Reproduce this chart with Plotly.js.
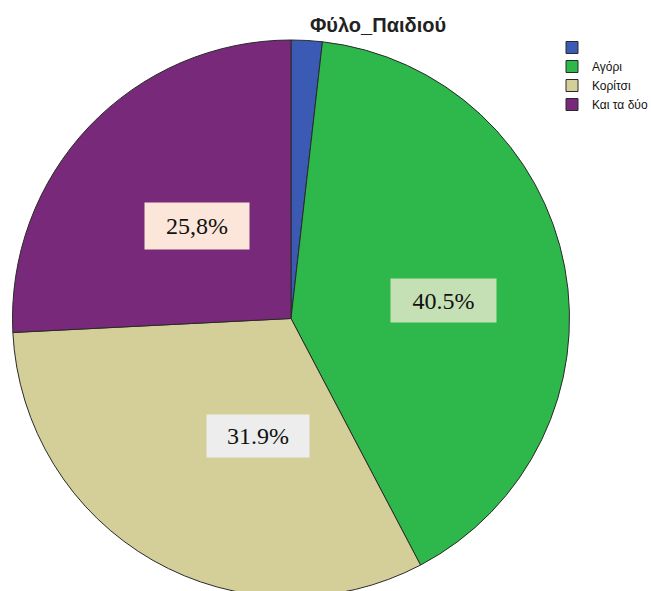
<!DOCTYPE html>
<html>
<head>
<meta charset="utf-8">
<script src="https://cdn.plot.ly/plotly-3.0.1.min.js"></script>
<style>
html, body { margin: 0; padding: 0; overflow: hidden; background: #fff; }
#chart { width: 651px; height: 610px; }
</style>
</head>
<body>
<div id="chart"></div>
<script>
// Data
const categories = [' ', 'Αγόρι', 'Κορίτσι', 'Και τα δύο'];
const percentValues = [1.8, 40.5, 31.9, 25.8];
const sliceColors = ['#3a5ab4', '#2eb84b', '#d4ce99', '#792979'];
const sliceLabelText = ['', '40.5%', '31.9%', '25,8%'];
const chartTitle = 'Φύλο_Παιδιού';

const W = 651, H = 610;

const trace = {
  type: 'pie',
  labels: categories,
  values: percentValues,
  sort: false,
  direction: 'clockwise',
  rotation: 0,
  textinfo: 'none',
  hoverinfo: 'label+percent',
  automargin: false,
  marker: { colors: sliceColors, line: { color: '#2a2a2a', width: 1 } },
  domain: { x: [12.5 / W, 569.5 / W], y: [13 / H, 570 / H] }
};

// label boxes (layout only)
const boxLayout = [
  null,
  { cx: 443, cy: 300, w: 105, h: 43, bg: '#c5e0b4' },
  { cx: 258, cy: 436, w: 102, h: 42, bg: '#ededed' },
  { cx: 197, cy: 226, w: 104, h: 46, bg: '#fce6d9' }
];

const annotations = [];
sliceLabelText.forEach((t, i) => {
  const b = boxLayout[i];
  if (!t || !b) return;
  annotations.push({
    xref: 'paper', yref: 'paper',
    x: b.cx / W, y: 1 - b.cy / H,
    xanchor: 'center', yanchor: 'middle',
    text: t, showarrow: false,
    width: b.w, height: b.h, borderpad: 0,
    bgcolor: b.bg, align: 'center', valign: 'middle',
    font: { family: "'Liberation Serif', 'Times New Roman', serif", size: 24, color: '#111' }
  });
});

const layout = {
  width: W, height: H,
  margin: { l: 0, r: 0, t: 0, b: 0, autoexpand: false },
  paper_bgcolor: '#fff',
  title: {
    text: '<b>' + chartTitle + '</b>',
    x: 378 / W, xanchor: 'center',
    y: 1 - 25 / H, yanchor: 'middle', yref: 'container',
    font: { family: "'Liberation Sans', Arial, sans-serif", size: 20, color: '#222' }
  },
  showlegend: true,
  legend: {
    x: 552 / W, xanchor: 'left',
    y: 1 - 33 / H, yanchor: 'top',
    font: { family: "'Liberation Sans', Arial, sans-serif", size: 12, color: '#111' },
    bgcolor: 'rgba(0,0,0,0)',
    itemwidth: 30
  },
  annotations: annotations
};

Plotly.newPlot('chart', [trace], layout, { displayModeBar: false, staticPlot: true });
</script>
</body>
</html>
